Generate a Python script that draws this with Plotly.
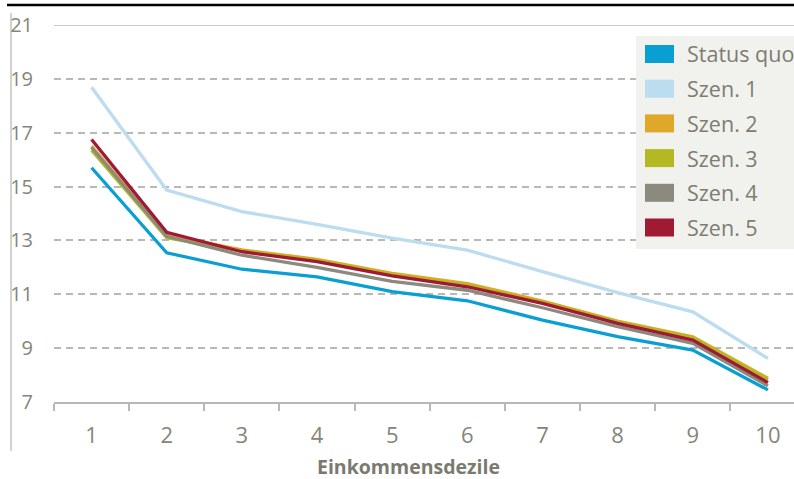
import plotly.graph_objects as go

deciles = ["1", "2", "3", "4", "5", "6", "7", "8", "9", "10"]
status_quo = [15.70, 12.54, 11.93, 11.65, 11.10, 10.76, 10.04, 9.43, 8.93, 7.45]
szen_1 = [18.69, 14.87, 14.07, 13.60, 13.09, 12.64, 11.84, 11.06, 10.35, 8.62]
szen_2 = [16.50, 13.20, 12.65, 12.30, 11.78, 11.40, 10.75, 10.00, 9.42, 7.88]
szen_3 = [16.35, 13.10, 12.60, 12.25, 11.72, 11.33, 10.70, 9.97, 9.38, 7.82]
szen_4 = [16.45, 13.15, 12.45, 12.00, 11.48, 11.15, 10.50, 9.80, 9.18, 7.60]
szen_5 = [16.75, 13.30, 12.58, 12.21, 11.68, 11.28, 10.66, 9.92, 9.30, 7.72]

series_names = ["Status quo", "Szen. 1", "Szen. 2", "Szen. 3", "Szen. 4", "Szen. 5"]
series_values = [status_quo, szen_1, szen_2, szen_3, szen_4, szen_5]
colors = ["#0a9fd3", "#bcdcf0", "#e0a82a", "#b3b823", "#8c8a7f", "#a01a33"]
y_ticks = [7, 9, 11, 13, 15, 17, 19, 21]
x_title = "Einkommensdezile"

W, H = 794, 479
L, R, T, B = 54, 0, 25, 77
PW, PH = W - L - R, H - T - B
TXT = "#85857a"
GRID = "#b9b9b1"


def px(x):
    return (x - L) / PW


def py(y):
    return (H - B - y) / PH


fig = go.Figure()
for name, vals, col in zip(series_names, series_values, colors):
    fig.add_trace(go.Scatter(x=deciles, y=vals, mode="lines", name=name,
                             line=dict(color=col, width=3.3), showlegend=False))

cat_w = 75.15
x_end = -0.5 + PW / cat_w

shapes = [
    dict(type="line", xref="paper", yref="paper", x0=px(7), x1=px(794), y0=py(5), y1=py(5),
         line=dict(color="black", width=2.5)),
    dict(type="line", xref="paper", yref="paper", x0=px(11), x1=px(11), y0=py(13), y1=py(451),
         line=dict(color="#a5a59c", width=1)),
    dict(type="line", xref="paper", yref="y", x0=0, x1=1, y0=21, y1=21,
         line=dict(color=GRID, width=1.5)),
    dict(type="rect", xref="paper", yref="paper", x0=px(636), x1=px(794), y0=py(249), y1=py(36),
         fillcolor="#f1f1ed", line=dict(width=0)),
]
annotations = []
for i, (name, col) in enumerate(zip(series_names, colors)):
    yc = 54 + i * 34.7
    shapes.append(dict(type="rect", xref="paper", yref="paper", x0=px(645), x1=px(674),
                       y0=py(yc + 9), y1=py(yc - 9), fillcolor=col, line=dict(width=0)))
    annotations.append(dict(xref="paper", yref="paper", x=px(685), y=py(yc), text=name,
                            showarrow=False, xanchor="left", yanchor="middle",
                            font=dict(size=21.5, color="#7d7d72", family="Open Sans")))
annotations.append(dict(xref="paper", yref="paper", x=px(408), y=py(466), text="<b>" + x_title + "</b>",
                        showarrow=False, xanchor="center", yanchor="middle",
                        font=dict(size=19.5, color="#7a7a70", family="Open Sans")))

fig.update_layout(
    width=W, height=H, margin=dict(l=L, r=R, t=T, b=B, autoexpand=False),
    plot_bgcolor="white", paper_bgcolor="white",
    font=dict(family="Open Sans", color=TXT),
    shapes=shapes, annotations=annotations, showlegend=False,
    xaxis=dict(type="category", range=[-0.5, x_end], showgrid=False, zeroline=False,
               automargin=False,
               showline=True, linecolor=GRID, linewidth=1.5,
               ticks="outside", tickson="boundaries", ticklen=7, tickwidth=1.5, tickcolor=GRID,
               tickfont=dict(size=22, color=TXT), ticklabelstandoff=13),
    yaxis=dict(range=[7, 21], tickvals=y_ticks, showgrid=True, gridcolor=GRID, gridwidth=1.5,
               automargin=False,
               griddash="7px,5px", zeroline=False, showline=False, ticks="",
               tickfont=dict(size=20, color=TXT), ticklabelstandoff=20),
)

fig.write_html("out.html", config={"displayModeBar": False},
               post_script="document.body.style.margin='0px';")
